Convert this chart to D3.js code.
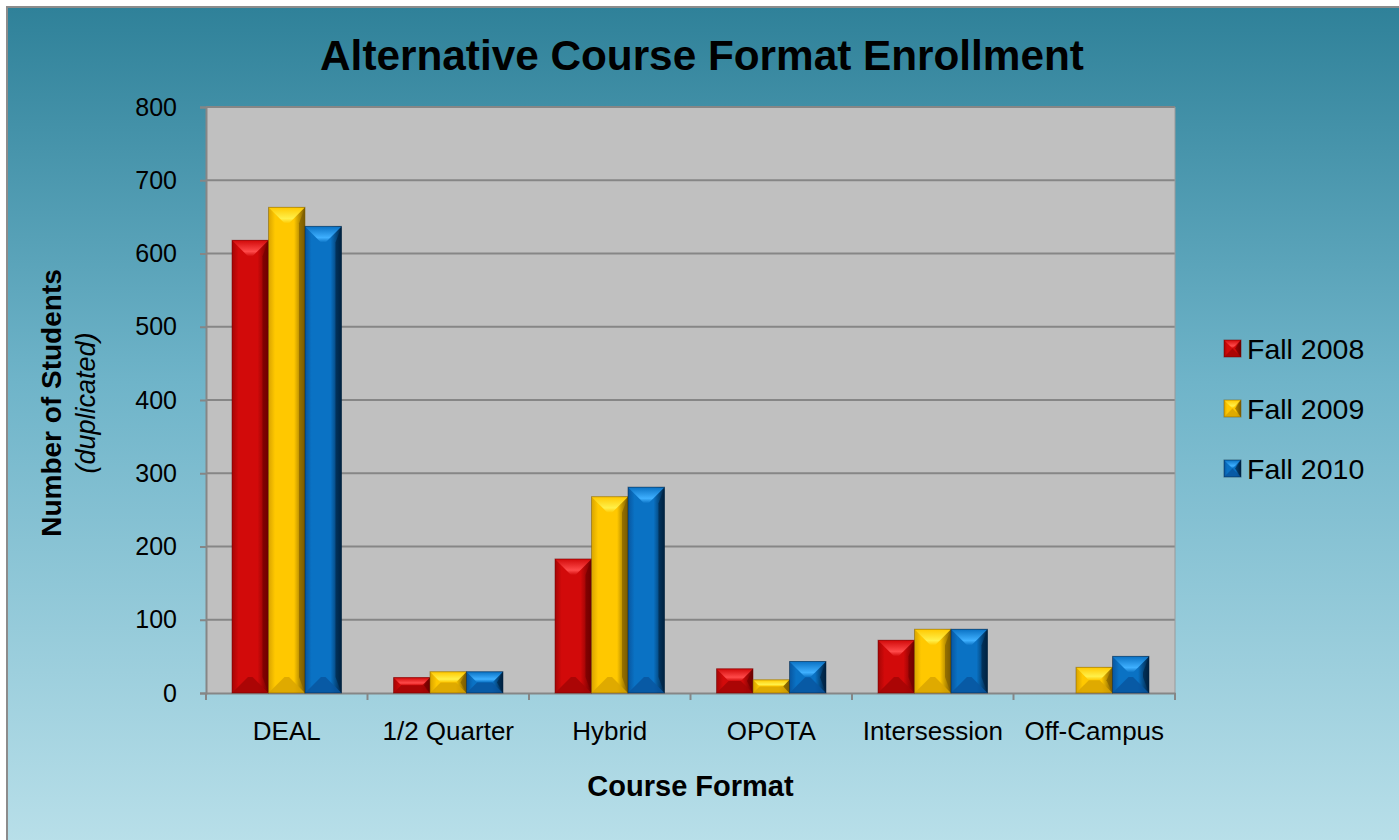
<!DOCTYPE html>
<html>
<head>
<meta charset="utf-8">
<script src="https://cdn.jsdelivr.net/npm/d3@7"></script>
<style>
  body { margin: 0; background: #fff; }
  text { font-family: "Liberation Sans", Arial, sans-serif; }
</style>
</head>
<body>
<svg id="chart"></svg>
<script>
const width = 1399;
const height = 840;

// data
const categories = ['DEAL', '1/2 Quarter', 'Hybrid', 'OPOTA', 'Intersession', 'Off-Campus'];
const seriesNames = ['Fall 2008', 'Fall 2009', 'Fall 2010'];
const fall2008 = [618, 21, 183, 33, 72, 0];
const fall2009 = [663, 29, 268, 18, 87, 35];
const fall2010 = [637, 29, 281, 43, 87, 50];
const yTicks = [0, 100, 200, 300, 400, 500, 600, 700, 800];

const seriesValues = [fall2008, fall2009, fall2010];
const colors = [
    { base: '#d20a0a', light: '#ff4a4a', dark: '#6e0000', mid: '#a50505' },
    { base: '#ffc800', light: '#fff04a', dark: '#7a5a00', mid: '#d9a400' },
    { base: '#0a72c4', light: '#3fb0ff', dark: '#00213f', mid: '#0856a0' }
];

const margin = { left: 206, right: 224, top: 107, bottom: 147 };

const svg = d3.select('svg#chart').attr('width', width).attr('height', height);
const defs = svg.append('defs');

// background gradient
const bg = defs.append('linearGradient').attr('id', 'bg')
    .attr('x1', 0).attr('y1', 0).attr('x2', 0).attr('y2', 1);
bg.append('stop').attr('offset', '0%').attr('stop-color', '#2f8199');
bg.append('stop').attr('offset', '45%').attr('stop-color', '#6fb4c9');
bg.append('stop').attr('offset', '100%').attr('stop-color', '#b8dfe9');

// bar face gradients
colors.forEach((c, i) => {
    const g = defs.append('linearGradient').attr('id', 'face' + i)
        .attr('x1', 0).attr('y1', 0).attr('x2', 1).attr('y2', 0);
    g.append('stop').attr('offset', '0%').attr('stop-color', c.mid);
    g.append('stop').attr('offset', '18%').attr('stop-color', c.base);
    g.append('stop').attr('offset', '70%').attr('stop-color', c.base);
    g.append('stop').attr('offset', '100%').attr('stop-color', c.dark);
    const t = defs.append('linearGradient').attr('id', 'top' + i)
        .attr('x1', 0).attr('y1', 0).attr('x2', 0).attr('y2', 1);
    t.append('stop').attr('offset', '0%').attr('stop-color', c.base);
    t.append('stop').attr('offset', '70%').attr('stop-color', c.light);
    t.append('stop').attr('offset', '100%').attr('stop-color', c.base);
});

svg.append('rect')
    .attr('x', 7).attr('y', 7)
    .attr('width', width - 7 + 2).attr('height', height - 7 + 2)
    .attr('fill', 'url(#bg)')
    .attr('stroke', '#8c8c8c')
    .attr('stroke-width', 2);

const plotW = width - margin.left - margin.right;
const plotH = height - margin.top - margin.bottom;

const chart = svg.append('g')
    .attr('transform', 'translate(' + margin.left + ', ' + margin.top + ')');

const x0 = d3.scaleBand().domain(categories).range([0, plotW]).padding(0);
const gap = 26;
const x1 = d3.scaleBand().domain(d3.range(seriesNames.length))
    .range([gap, x0.bandwidth() - gap]).padding(0);
const y = d3.scaleLinear().domain([0, 800]).range([plotH, 0]);

chart.append('rect')
    .attr('width', plotW).attr('height', plotH)
    .attr('fill', '#c0c0c0');

// gridlines
chart.selectAll('line.grid').data(yTicks.filter(t => t > 0)).enter()
    .append('line')
    .attr('x1', 0).attr('x2', plotW)
    .attr('y1', d => y(d)).attr('y2', d => y(d))
    .attr('stroke', '#868686').attr('stroke-width', 2);

// plot border right
chart.append('line').attr('x1', plotW).attr('x2', plotW).attr('y1', 0).attr('y2', plotH)
    .attr('stroke', '#9a9a9a').attr('stroke-width', 1);

// axes
const yAxis = d3.axisLeft(y).tickValues(yTicks).tickSize(6).tickPadding(23);
const ya = chart.append('g').call(yAxis);
ya.select('.domain').attr('stroke', '#868686').attr('stroke-width', 2);
ya.selectAll('.tick line').attr('stroke', '#868686').attr('stroke-width', 2);
ya.selectAll('.tick text').attr('font-size', 25).attr('fill', '#000')
    .style('font-family', '"Liberation Sans", Arial, sans-serif');

const xa = chart.append('g').attr('transform', 'translate(0,' + plotH + ')')
    .call(d3.axisBottom(x0).tickSize(0).tickPadding(29));
xa.select('.domain').attr('stroke', '#868686').attr('stroke-width', 2);
xa.selectAll('.tick text').attr('font-size', 26).attr('fill', '#000')
    .style('font-family', '"Liberation Sans", Arial, sans-serif');
// category boundary ticks
chart.selectAll('line.xt').data(d3.range(categories.length + 1)).enter()
    .append('line')
    .attr('x1', d => d * x0.step()).attr('x2', d => d * x0.step())
    .attr('y1', plotH).attr('y2', plotH + 7)
    .attr('stroke', '#868686').attr('stroke-width', 2);

// beveled box
function bevel(g, bx, by, bw, bh, i) {
    if (bh <= 0) return;
    const c = colors[i];
    const d = Math.min(bw / 2, bh / 2, 16);
    g.append('rect').attr('x', bx).attr('y', by).attr('width', bw).attr('height', bh)
        .attr('fill', 'url(#face' + i + ')');
    // top facet
    g.append('polygon')
        .attr('points', [[bx, by], [bx + bw, by], [bx + bw - d, by + d], [bx + d, by + d]].join(' '))
        .attr('fill', 'url(#top' + i + ')');
    // bottom facet
    g.append('polygon')
        .attr('points', [[bx, by + bh], [bx + bw, by + bh], [bx + bw - d, by + bh - d], [bx + d, by + bh - d]].join(' '))
        .attr('fill', c.mid).attr('opacity', 0.85);
    // right facet
    g.append('polygon')
        .attr('points', [[bx + bw, by], [bx + bw, by + bh], [bx + bw - Math.min(d, 6), by + bh - d], [bx + bw - Math.min(d, 6), by + d]].join(' '))
        .attr('fill', c.dark).attr('opacity', 0.6);
    g.append('rect').attr('x', bx).attr('y', by).attr('width', bw).attr('height', bh)
        .attr('fill', 'none').attr('stroke', c.dark).attr('stroke-opacity', 0.5).attr('stroke-width', 1);
}

const bars = chart.append('g');
categories.forEach((cat, ci) => {
    seriesValues.forEach((vals, si) => {
        const v = vals[ci];
        if (!v) return;
        const bx = x0(cat) + x1(si);
        bevel(bars, bx, y(v), x1.bandwidth(), y(0) - y(v), si);
    });
});

// title
svg.append('text')
    .attr('x', 702).attr('y', 70)
    .attr('text-anchor', 'middle')
    .attr('font-size', 42.3).attr('font-weight', 'bold')
    .text('Alternative Course Format Enrollment');

// x axis title
svg.append('text')
    .attr('x', margin.left + plotW / 2).attr('y', 796)
    .attr('text-anchor', 'middle')
    .attr('font-size', 29).attr('font-weight', 'bold')
    .text('Course Format');

// y axis title
const yt = svg.append('text')
    .attr('transform', 'translate(61,' + (margin.top + plotH / 2 + 3) + ') rotate(-90)')
    .attr('text-anchor', 'middle');
yt.append('tspan').attr('x', 0).attr('dy', 0)
    .attr('font-size', 28).attr('font-weight', 'bold').text('Number of Students');
yt.append('tspan').attr('x', 0).attr('dy', 34)
    .attr('font-size', 27).attr('font-style', 'italic').text('(duplicated)');

// legend
const legend = svg.append('g').attr('transform', 'translate(1224, 340)');
seriesNames.forEach((name, i) => {
    const lg = legend.append('g').attr('transform', 'translate(0,' + (i * 60) + ')');
    bevel(lg, 0, 0, 17, 17, i);
    lg.append('text').attr('x', 23).attr('y', 19)
        .attr('font-size', 28.5).text(name);
});
</script>
</body>
</html>
